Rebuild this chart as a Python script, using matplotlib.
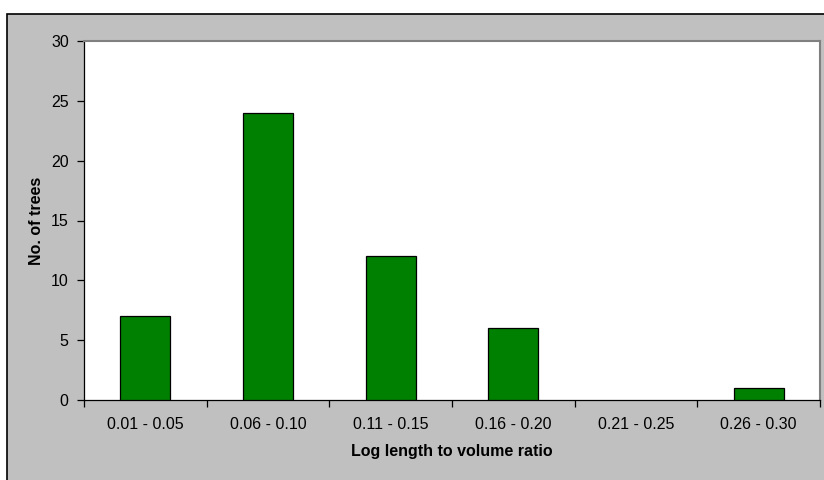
import matplotlib
matplotlib.use("Agg")
import matplotlib.pyplot as plt
from matplotlib.patches import Rectangle

categories = ["0.01 - 0.05", "0.06 - 0.10", "0.11 - 0.15", "0.16 - 0.20", "0.21 - 0.25", "0.26 - 0.30"]
counts = [7, 24, 12, 6, 0, 1]
yticks = [0, 5, 10, 15, 20, 25, 30]

plt.rcParams['font.family'] = ['Liberation Sans', 'DejaVu Sans']

W, H = 824, 480
fig = plt.figure(figsize=(W/100, H/100), dpi=100, facecolor='white')

# chart area background with border
bg = Rectangle((7/W, -0.01), 1.02 - 7/W, 1 - 14/H + 0.01, transform=fig.transFigure,
               facecolor='#C0C0C0', edgecolor='black', linewidth=1.2, zorder=-10)
fig.patches.append(bg)

left, right, top, bottom = 84, 820, 41, 400
ax = fig.add_axes([left/W, 1 - bottom/H, (right-left)/W, (bottom-top)/H])
ax.set_facecolor('white')

x = list(range(len(categories)))
bars = ax.bar(x, counts, width=0.41, color='#008000', edgecolor='black', linewidth=0.9, zorder=3)
for b, v in zip(bars, counts):
    if v == 0:
        b.set_visible(False)

ax.set_xlim(-0.5, len(categories) - 0.5)
ax.set_ylim(0, 30)
ax.set_yticks(yticks)
ax.set_yticklabels([str(v) for v in yticks], fontsize=11.5)
ax.set_xticks(x)
ax.set_xticklabels(categories, fontsize=11.5)
ax.tick_params(axis='x', length=0, pad=12)
ax.set_xticks([i - 0.5 for i in range(len(categories) + 1)], minor=True)
ax.tick_params(axis='x', which='minor', length=5, direction='out', width=0.9)
ax.tick_params(axis='y', length=5, direction='out', width=0.9, pad=6)

for s in ['top', 'right']:
    ax.spines[s].set_color('#808080')
    ax.spines[s].set_linewidth(1.5)
for s in ['left', 'bottom']:
    ax.spines[s].set_color('black')
    ax.spines[s].set_linewidth(0.9)

ax.set_xlabel("Log length to volume ratio", fontsize=11.5, fontweight='bold', labelpad=9)
ax.set_ylabel("No. of trees", fontsize=11.5, fontweight='bold', labelpad=5)

fig.savefig("out.png", dpi=100, facecolor=fig.get_facecolor())
